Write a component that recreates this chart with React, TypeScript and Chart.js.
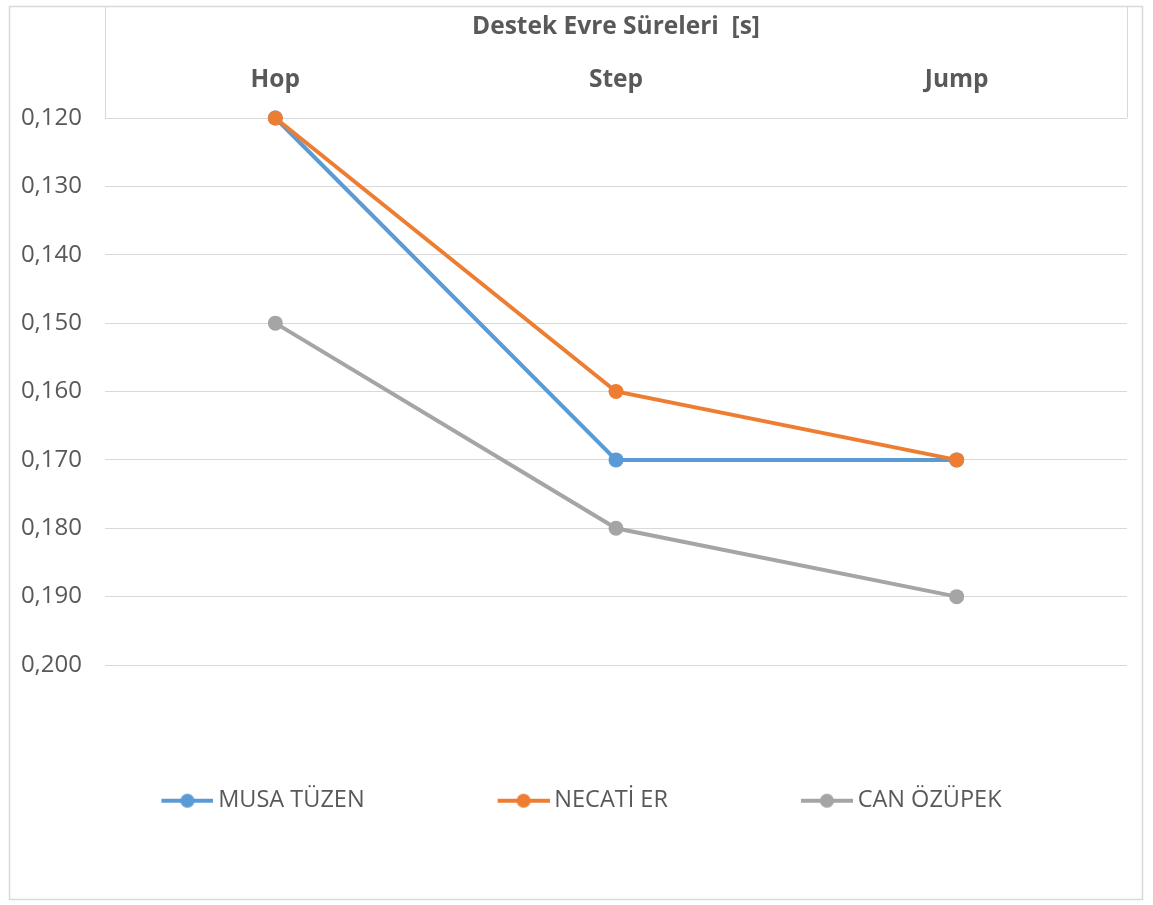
import React, { useEffect, useRef } from "react";
import { Chart, registerables } from "chart.js";

Chart.register(...registerables);

// ---- data ----
const categories = ["Hop", "Step", "Jump"];
const seriesNames = ["MUSA TÜZEN", "NECATİ ER", "CAN ÖZÜPEK"];
const musaTuzen = [0.12, 0.17, 0.17];
const necatiEr = [0.12, 0.16, 0.17];
const canOzupek = [0.15, 0.18, 0.19];
const seriesColors = ["#5B9BD5", "#ED7D31", "#A5A5A5"];
const chartTitle = "Destek Evre Süreleri  [s]";
const yMin = 0.12;
const yMax = 0.2;
const yStep = 0.01;

const TEXT = "#595959";
const FONT = "'Open Sans', 'Noto Sans', sans-serif";
const BOX_W = 54;
const IMG_W = 68;

function makeMarker(color: string): HTMLCanvasElement {
  const h = 18;
  const c = document.createElement("canvas");
  c.width = IMG_W;
  c.height = h;
  const ctx = c.getContext("2d")!;
  ctx.strokeStyle = color;
  ctx.lineWidth = 4;
  ctx.beginPath();
  ctx.moveTo(IMG_W - 52, h / 2);
  ctx.lineTo(IMG_W, h / 2);
  ctx.stroke();
  ctx.fillStyle = color;
  ctx.beginPath();
  ctx.arc(IMG_W - 26, h / 2, 7, 0, Math.PI * 2);
  ctx.fill();
  return c;
}

const framePlugin = {
  id: "framePlugin",
  afterLayout(chart: any) {
    // let the y tick labels use the space left of the axis box (avoid clipping)
    if (chart.scales.y) chart.scales.y.left = 0;
  },
  beforeDraw(chart: any) {
    const { ctx, width, height, chartArea } = chart;
    ctx.save();
    ctx.fillStyle = "#ffffff";
    ctx.fillRect(0, 0, width, height);
    ctx.strokeStyle = "#d9d9d9";
    ctx.lineWidth = 1.5;
    ctx.strokeRect(9.5, 6.5, width - 20, height - 12);
    ctx.lineWidth = 1;
    ctx.beginPath();
    ctx.moveTo(Math.round(chartArea.left) + 0.5, 6.5);
    ctx.lineTo(Math.round(chartArea.left) + 0.5, chartArea.top);
    ctx.moveTo(Math.round(chartArea.right) + 0.5, 6.5);
    ctx.lineTo(Math.round(chartArea.right) + 0.5, chartArea.top);
    ctx.stroke();
    ctx.restore();
  },
};

export default function App() {
  const ref = useRef<HTMLCanvasElement | null>(null);

  useEffect(() => {
    if (!ref.current) return;
    const markers = seriesColors.map(makeMarker);
    const values = [musaTuzen, necatiEr, canOzupek];
    const chart = new Chart(ref.current, {
      type: "line",
      data: {
        labels: categories,
        datasets: seriesNames.map((name, i) => ({
          label: name,
          data: values[i],
          borderColor: seriesColors[i],
          backgroundColor: seriesColors[i],
          pointBackgroundColor: seriesColors[i],
          pointBorderColor: seriesColors[i],
          borderWidth: 4,
          pointRadius: 7.5,
          pointBorderWidth: 0,
          tension: 0,
          clip: false,
          order: 3 - i,
        })),
      },
      options: {
        animation: false,
        responsive: false,
        layout: { padding: { left: 27, right: 26, top: 0, bottom: 82.5 } },
        plugins: {
          tooltip: { enabled: false },
          title: {
            display: true,
            text: chartTitle,
            fullSize: false,
            color: TEXT,
            font: { family: FONT, size: 24.5, weight: "bold" },
            padding: { top: 12.3, bottom: 8 },
          },
          legend: {
            position: "bottom",
            labels: {
              usePointStyle: true,
              pointStyleWidth: BOX_W,
              padding: 124,
              color: TEXT,
              font: { family: FONT, size: 23.5 },
              sort: (a: any, b: any) => a.datasetIndex - b.datasetIndex,
              generateLabels: (c: any) => {
                const items = (Chart.defaults.plugins.legend.labels as any).generateLabels(c);
                items.forEach((it: any) => {
                  it.pointStyle = markers[it.datasetIndex];
                });
                return items;
              },
            },
          },
        },
        scales: {
          x: {
            type: "category",
            position: "top",
            offset: true,
            grid: { display: false, drawTicks: false },
            border: { display: false },
            ticks: {
              color: TEXT,
              font: { family: FONT, size: 24.5, weight: "bold" },
              padding: 23.3,
            },
            afterFit: (s: any) => {
              s.height = 68.3;
            },
          },
          y: {
            reverse: true,
            min: yMin,
            max: yMax,
            grid: { color: "#d9d9d9", lineWidth: 1, drawTicks: false },
            border: { display: false },
            ticks: {
              stepSize: yStep,
              color: TEXT,
              font: { family: FONT, size: 24 },
              padding: 23,
              callback: (v: any) => Number(v).toFixed(3).replace(".", ","),
            },
            afterFit: (s: any) => {
              s.width = 78;
            },
          },
        },
      } as any,
      plugins: [framePlugin],
    });
    return () => chart.destroy();
  }, []);

  return (
    <div style={{ position: "absolute", left: 0, top: 0, width: 1153, height: 905 }}>
      <canvas ref={ref} width={1153} height={905} style={{ display: "block" }} />
    </div>
  );
}
